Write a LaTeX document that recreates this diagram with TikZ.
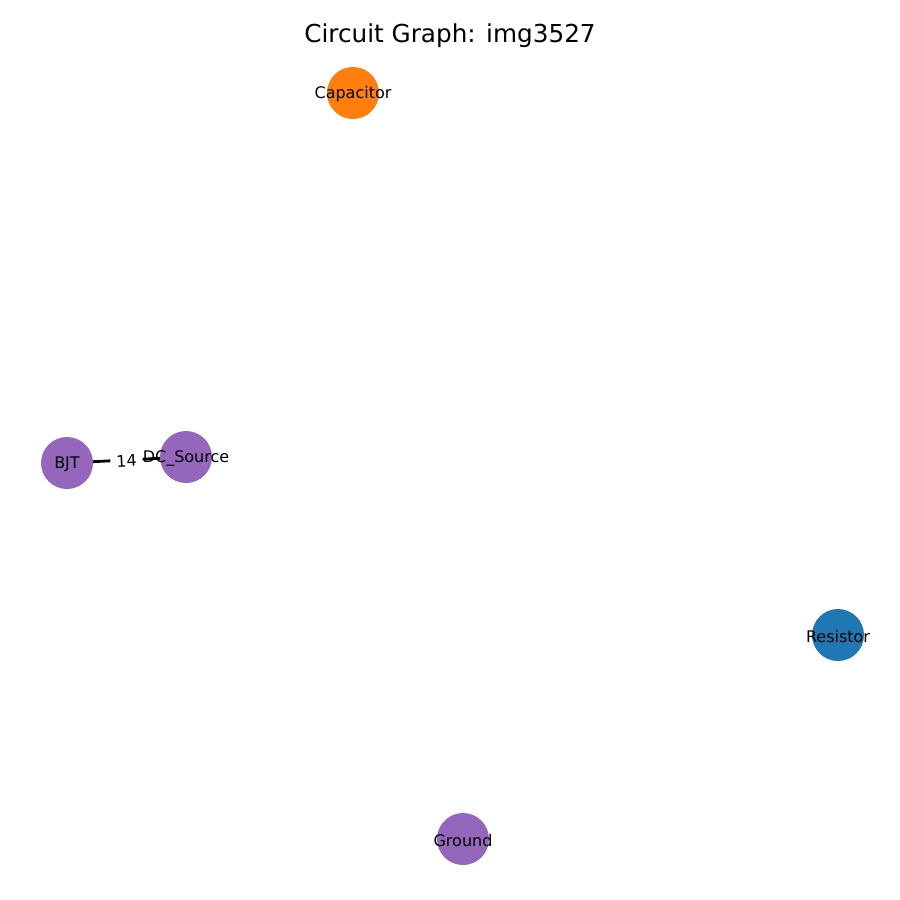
\documentclass[tikz,border=0pt]{standalone}
\usepackage{fontspec}
\setmainfont{DejaVu Sans}
\usetikzlibrary{positioning}

\begin{document}
\begin{tikzpicture}
        [x=1pt, y=-1pt,
         comp/.style={circle, draw=none, minimum size=52pt, inner sep=0pt,
                      label={[font=\fontsize{16}{18}\selectfont, yshift=-1.5pt]center:#1}},
         wire/.style={line width=2.8pt, black},
         weight/.style={fill=white, inner xsep=6pt, inner ysep=2pt, font=\fontsize{16}{18}\selectfont}]
        \useasboundingbox (0,0) rectangle (900,900);
        \definecolor{mplblue}{HTML}{1F77B4}
        \definecolor{mplorange}{HTML}{FF7F0E}
        \definecolor{mplpurple}{HTML}{9467BD}
        \node [font=\fontsize{24.7}{28}\selectfont] (title) at (450,36) {Circuit Graph: img3527};
        \coordinate (pbjt) at (67,463);
        \coordinate (pdc) at (186,457);
        \draw [wire] (pbjt) -- (pdc);
        \node [comp=Capacitor, fill=mplorange] (capacitor) at (353,93) {};
        \node [comp=BJT, fill=mplpurple] (bjt) at (pbjt) {};
        \node [comp=DC\_Source, fill=mplpurple] (dcsource) at (pdc) {};
        \node [comp=Resistor, fill=mplblue] (resistor) at (838,635) {};
        \node [comp=Ground, fill=mplpurple] (ground) at (463,839) {};
        \path (pbjt) -- node [weight, rotate=3, yshift=-1pt] (w14) {14} (pdc);
\end{tikzpicture}
\end{document}
